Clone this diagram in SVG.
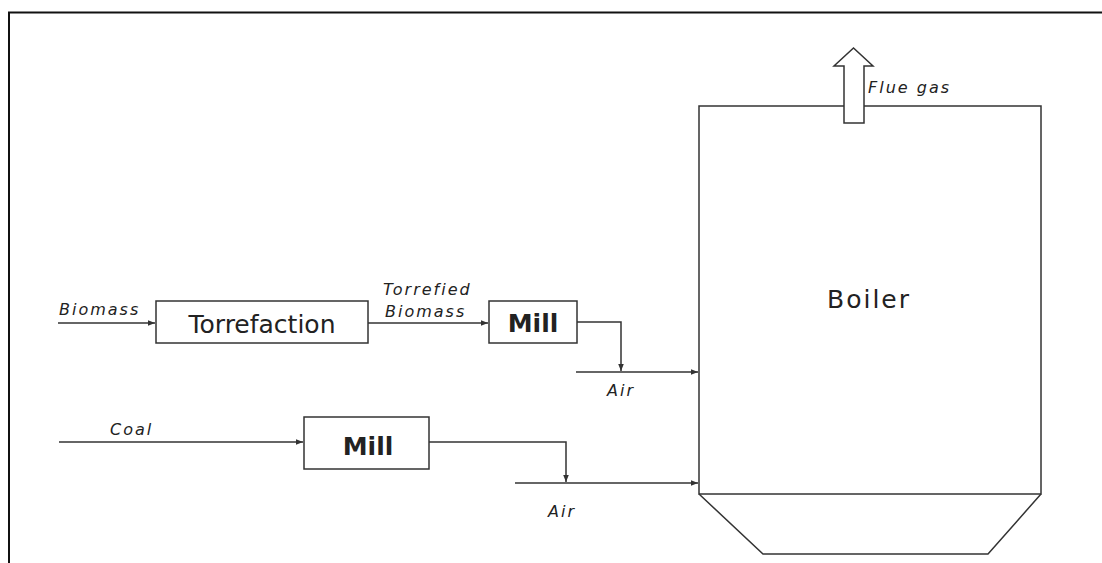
<svg xmlns="http://www.w3.org/2000/svg" width="1102" height="563" viewBox="0 0 1102 563">
<style>
.ln{fill:none;stroke:#333;stroke-width:1.5}
.bx{fill:#fff;stroke:#333;stroke-width:1.5}
.lbl{font-family:"DejaVu Sans","Liberation Sans",sans-serif;font-style:italic;font-size:16px;letter-spacing:2px;fill:#222}
.big{font-family:"DejaVu Sans","Liberation Sans",sans-serif;font-size:25px;fill:#222}
.mid{text-anchor:middle}
.bold{font-weight:bold}
</style>
<defs>
<marker id="ah" viewBox="0 0 10 10" refX="10" refY="5" markerWidth="7" markerHeight="7" orient="auto" markerUnits="userSpaceOnUse">
<path d="M0,1 L10,5 L0,9 Z" fill="#333"/>
</marker>
</defs>
<rect width="1102" height="563" fill="#fff"/>
<path d="M9,563 V12.5 H1102" fill="none" stroke="#111" stroke-width="2"/>
<g id="boiler">
<rect x="699" y="106" width="342" height="388" class="bx"/>
<path d="M699,494 L763,554 H988 L1041,494" class="ln"/>
<text x="827" y="308" class="big" font-size="27" letter-spacing="2">Boiler</text>
</g>
<g id="flue">
<path d="M844,123 V66 H834 L853.5,48 L873,66 H864 V123 Z" class="bx"/>
<text x="868" y="93" class="lbl">Flue gas</text>
</g>
<g id="torrefaction">
<rect x="156" y="301" width="212" height="42" class="bx"/>
<text x="262" y="333" class="big mid">Torrefaction</text>
</g>
<g id="mill1">
<rect x="489" y="301" width="88" height="42" class="bx"/>
<text x="533" y="332" class="big mid bold" font-size="24">Mill</text>
</g>
<g id="mill2">
<rect x="304" y="417" width="125" height="52" class="bx"/>
<text x="368" y="455" class="big mid bold">Mill</text>
</g>
<g id="connectors">
<path d="M58,323 H155" class="ln" marker-end="url(#ah)"/>
<path d="M368,323 H488" class="ln" marker-end="url(#ah)"/>
<path d="M577,322 H621 V371" class="ln" marker-end="url(#ah)"/>
<path d="M576,372 H698" class="ln" marker-end="url(#ah)"/>
<path d="M59,442 H303" class="ln" marker-end="url(#ah)"/>
<path d="M429,442 H566 V482" class="ln" marker-end="url(#ah)"/>
<path d="M515,483 H698" class="ln" marker-end="url(#ah)"/>
</g>
<g id="labels">
<text x="59" y="315" class="lbl">Biomass</text>
<text x="383" y="295" class="lbl">Torrefied</text>
<text x="385" y="317" class="lbl">Biomass</text>
<text x="607" y="396" class="lbl">Air</text>
<text x="110" y="435" class="lbl">Coal</text>
<text x="548" y="517" class="lbl">Air</text>
</g>
</svg>
